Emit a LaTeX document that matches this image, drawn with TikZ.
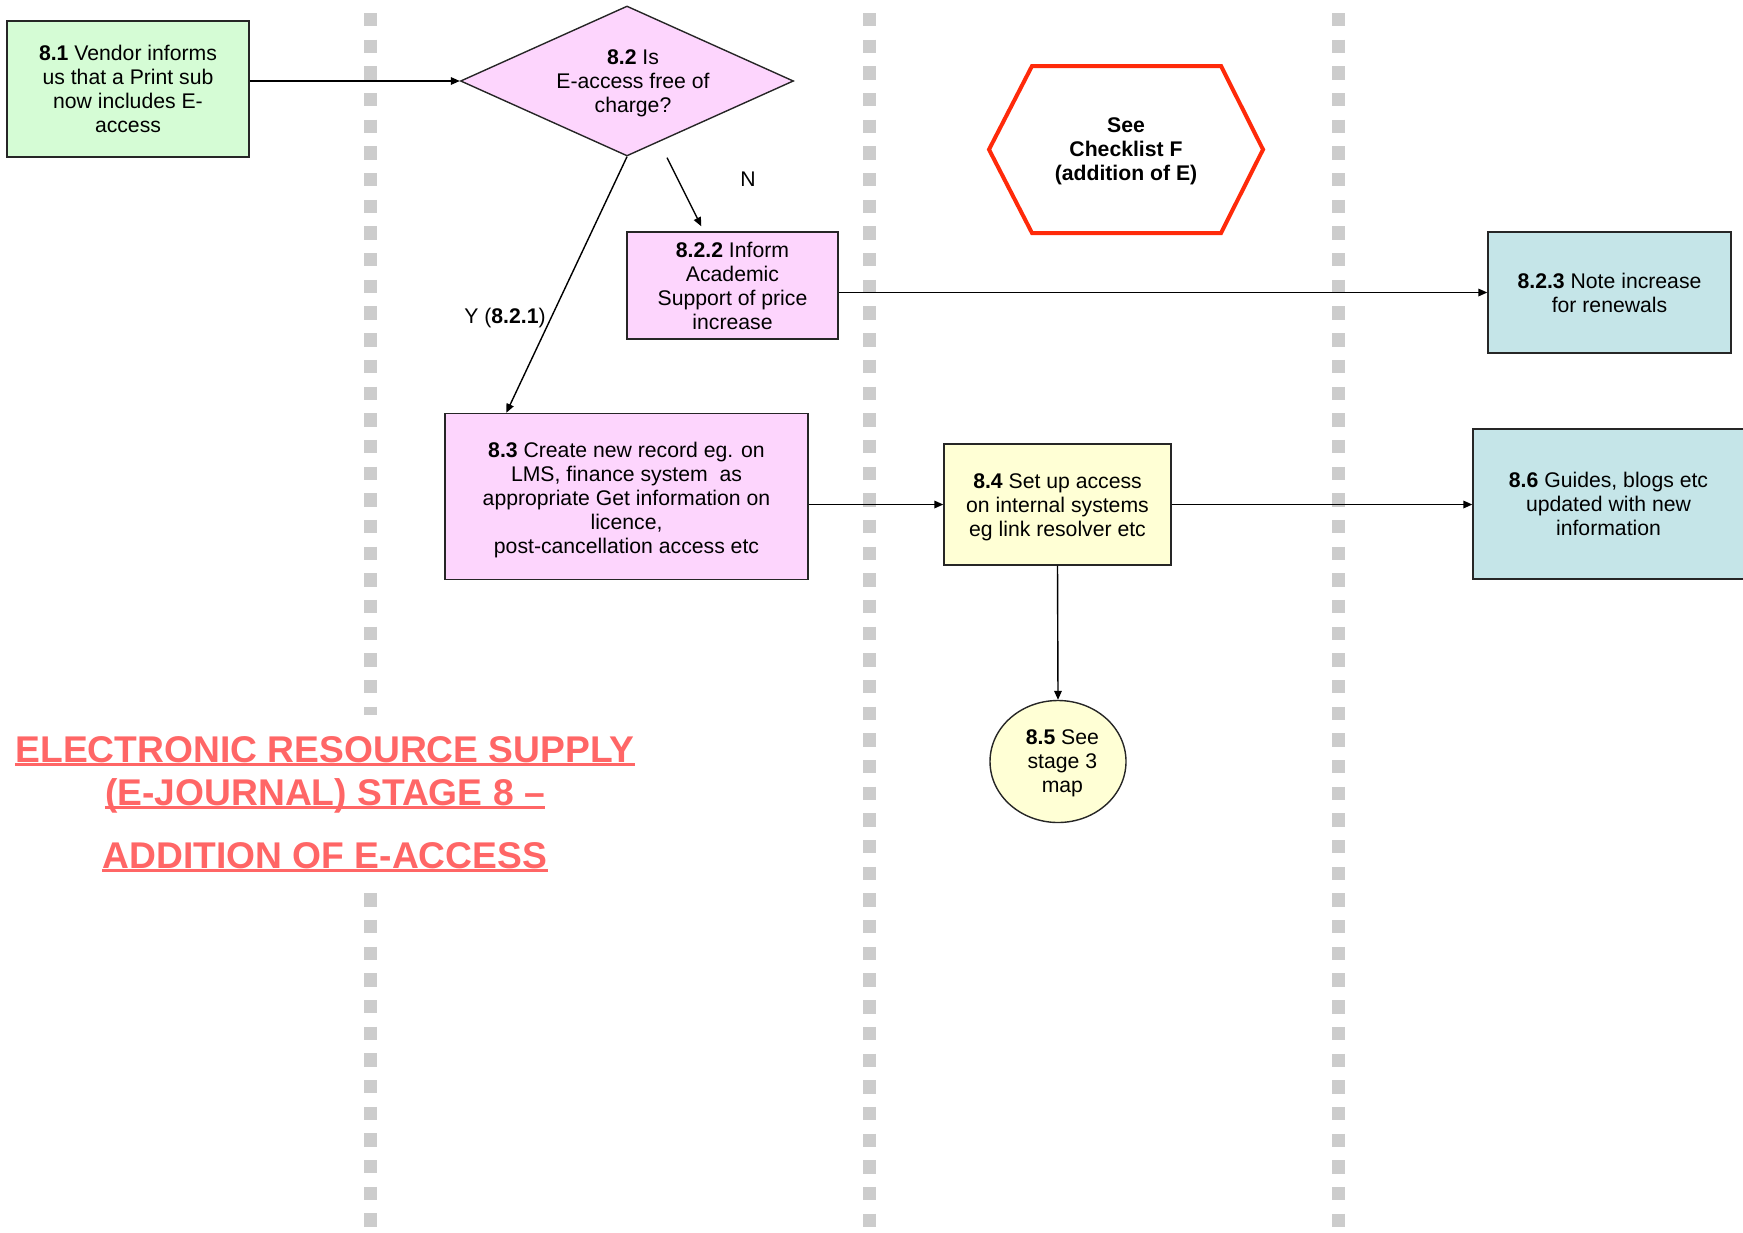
\documentclass[tikz,border=0pt]{standalone}
\usepackage{fontspec}
\setmainfont{Liberation Sans}
\usetikzlibrary{shapes.geometric,arrows.meta}
\definecolor{cgreen}{RGB}{213,252,213}
\definecolor{cpink}{RGB}{253,213,253}
\definecolor{cyellow}{RGB}{255,255,213}
\definecolor{cteal}{RGB}{197,229,232}
\definecolor{cgrey}{RGB}{204,204,204}
\definecolor{hexred}{RGB}{255,42,10}
\definecolor{titlecol}{RGB}{255,102,102}
\begin{document}
\begin{tikzpicture}[x=0.5pt,y=-0.5pt,
  txt/.style={font=\fontsize{10.6}{12}\selectfont, align=center},
  box/.style={txt, draw=black!85, line width=0.7pt, inner sep=0pt},
  arr/.style={-{Triangle[length=4.5pt,width=3.8pt]}, line width=0.7pt, draw=black},
  lane/.style={draw=cgrey, line width=6.5pt, dash pattern=on 6.67pt off 6.67pt},
  ttl/.style={font=\fontsize{18.6}{22}\selectfont\bfseries, text=titlecol, inner sep=0pt, anchor=base},
  uline/.style={draw=titlecol, line width=1.5pt}]
\useasboundingbox (0,0) rectangle (1743,1232);
% swim lanes
\draw[lane] (370,13) -- (370,715);
\draw[lane] (370,893.3) -- (370,1227);
\draw[lane] (869,13) -- (869,1227);
\draw[lane] (1338,13) -- (1338,1227);
% nodes
\node[box, fill=cgreen, minimum width=121pt, minimum height=68pt] (n81) at (128,89)
  {\textbf{8.1} Vendor informs\\us that a Print sub\\now includes E-\\access};
\node[diamond, draw=black!85, line width=0.7pt, fill=cpink, aspect=2.2, inner sep=0pt,
  minimum width=166.5pt, minimum height=75pt] (d) at (627,81) {};
\node[txt, inner sep=0pt] (dt) at ([xshift=3pt,yshift=-1pt]d.center)
  {\textbf{8.2} Is\\E-access free of\\charge?};
\node[box, fill=cpink, minimum width=105.5pt, minimum height=53.5pt] (n822) at (732.5,285.5)
  {\textbf{8.2.2} Inform\\Academic\\Support of price\\increase};
\node[box, fill=cteal, minimum width=121.5pt, minimum height=60.5pt] (n823) at (1609.5,292.5)
  {\textbf{8.2.3} Note increase\\for renewals};
\node[box, fill=cpink, minimum width=181.5pt, minimum height=83pt] (n83) at (626.5,496.5)
  {\rule{0pt}{11pt}\textbf{8.3} Create new record eg. on\\LMS, finance system~ as\\appropriate Get information on\\licence,\\post-cancellation access etc};
\node[box, fill=cyellow, minimum width=113.5pt, minimum height=60.5pt] (n84) at (1057.5,504.5)
  {\rule{0pt}{10.2pt}\textbf{8.4} Set up access\\on internal systems\\eg link resolver etc};
\node[box, fill=cteal, minimum width=135.5pt, minimum height=75pt] (n86) at (1608.5,504)
  {\textbf{8.6} Guides, blogs etc\\updated with new\\information};
\node[ellipse, box, fill=cyellow, minimum width=68pt, minimum height=61pt] (n85) at (1058,761.5) {};
\node[txt, inner sep=0pt] (n85t) at ([xshift=2.2pt,yshift=-1pt]n85.center)
  {\textbf{8.5} See\\stage 3\\map};
% hexagon
\draw[hexred, line width=2pt] (989,149.5) -- (1032,66) -- (1221,66) -- (1263,149.5) -- (1221,233) -- (1032,233) -- cycle;
\node[txt, font=\fontsize{10.6}{12}\selectfont\bfseries] (hex) at (1126,151.5) {See\\Checklist F\\(addition of E)};
% labels
\node[txt, anchor=east, inner sep=0pt] (ylab) at (546,318) {Y (\textbf{8.2.1})};
\node[txt, inner sep=0pt] (nlab) at (748,179) {N};
% connectors
\draw[arr] (n81.east |- d.west) -- (d.west);
\draw[arr] (d.south) -- ([xshift=31pt]n83.north west);
\draw[arr] ([xshift=20pt,yshift=-0.5pt]d.south) -- ([xshift=37.5pt,yshift=2.5pt]n822.north west);
\draw[arr] (n822.east |- n823.west) -- (n823.west);
\draw[arr] (n83.east |- n84.west) -- (n84.west);
\draw[arr] (n84.east) -- (n86.west |- n84.east);
\draw[arr] (n84.south) -- (n85.north);
% title
\node[ttl] (t1) at (325,762) {ELECTRONIC RESOURCE SUPPLY};
\node[ttl] (t2) at (325,805) {(E-JOURNAL) STAGE 8 –};
\node[ttl] (t3) at (325,868) {ADDITION OF E-ACCESS};
\draw[uline] ([yshift=-1.2pt]t1.base west) -- ([yshift=-1.2pt]t1.base east);
\draw[uline] ([yshift=-1.2pt]t2.base west) -- ([yshift=-1.2pt]t2.base east);
\draw[uline] ([yshift=-1.2pt]t3.base west) -- ([yshift=-1.2pt]t3.base east);
\end{tikzpicture}
\end{document}
